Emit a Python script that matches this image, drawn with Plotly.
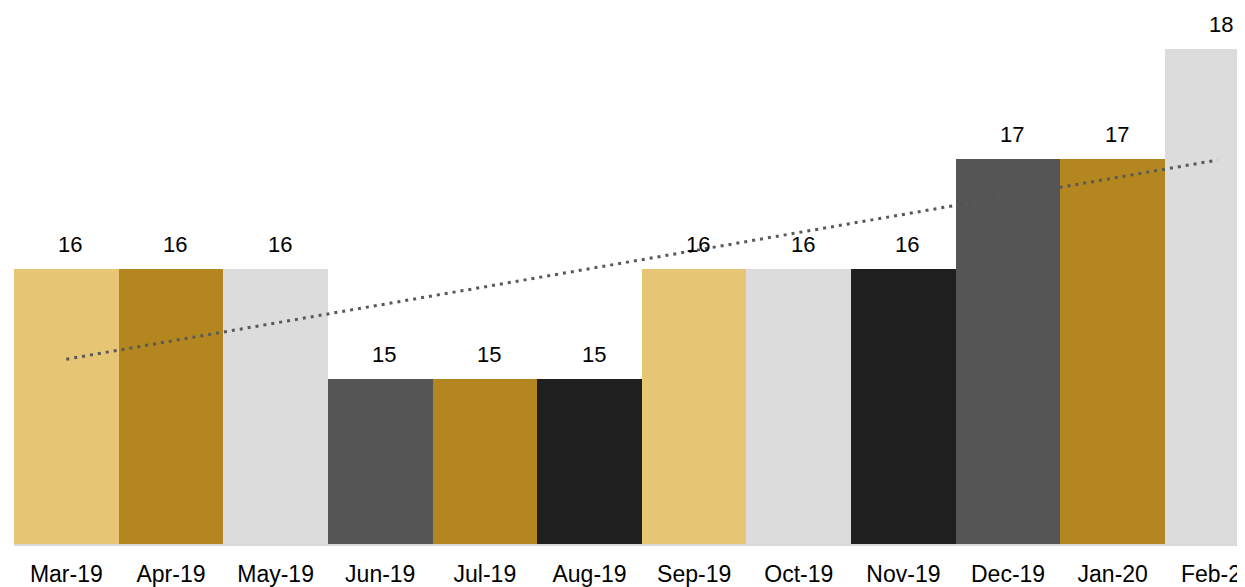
import plotly.graph_objects as go

categories = ["Mar-19", "Apr-19", "May-19", "Jun-19", "Jul-19", "Aug-19",
              "Sep-19", "Oct-19", "Nov-19", "Dec-19", "Jan-20", "Feb-20"]
values = [16, 16, 16, 15, 15, 15, 16, 16, 16, 17, 17, 18]
bar_colors = ["#E6C574", "#B38620", "#DCDCDC", "#555555", "#B38620", "#1F1F1F",
              "#E6C574", "#DCDCDC", "#1F1F1F", "#555555", "#B38620", "#DCDCDC"]
trend_x = ["Mar-19", "Feb-20"]
trend_values = [15.18, 16.99]

FONT = "Liberation Sans, Arial, sans-serif"

fig = go.Figure()
fig.add_trace(go.Bar(
    x=categories, y=values,
    marker=dict(color=bar_colors, line=dict(width=0)),
    hoverinfo="skip",
))
fig.add_trace(go.Scatter(
    x=trend_x, y=trend_values, mode="lines",
    line=dict(color="#595959", width=3, dash="3px,5px"),
    hoverinfo="skip",
))

for c, v in zip(categories, values):
    fig.add_annotation(x=c, y=v, text=str(v), showarrow=False,
                       yanchor="middle", xanchor="center", yshift=25, xshift=4,
                       font=dict(family=FONT, size=22, color="#000000"))

fig.update_layout(
    width=1237, height=579,
    margin=dict(l=6, r=0, t=0, b=43, autoexpand=False),
    paper_bgcolor="white", plot_bgcolor="white",
    bargap=0, showlegend=False,
    font=dict(family=FONT, size=22, color="#000000"),
)
fig.update_xaxes(
    type="category", range=[-0.5, 11.264], automargin=False,
    showline=True, linecolor="#D9D9D9", linewidth=1.5,
    showgrid=False, zeroline=False,
    ticks="", ticklabelstandoff=9,
    tickfont=dict(family=FONT, size=23, color="#000000"),
)
fig.update_yaxes(
    range=[13.5, 13.5 + 536 / 110], automargin=False,
    visible=False, showgrid=False, zeroline=False,
)

fig.write_html("out.html")
